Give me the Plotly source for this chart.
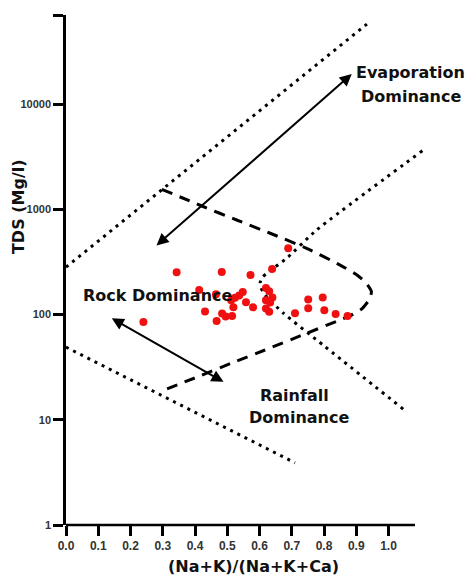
import numpy as np
import plotly.graph_objects as go

# ---- sample data (Gibbs diagram) ----
ratio = [0.689, 0.343, 0.483, 0.572, 0.639, 0.413, 0.465, 0.524, 0.537, 0.548,
         0.558, 0.620, 0.630, 0.640, 0.620, 0.633, 0.519, 0.580, 0.620, 0.630,
         0.431, 0.484, 0.495, 0.515, 0.467, 0.240, 0.710, 0.751, 0.796, 0.751,
         0.801, 0.836, 0.873, 0.512]
tds = [426, 252, 253, 237, 271, 171, 156, 144, 152, 164,
       131, 179, 166, 145, 137, 130, 117, 117, 114, 106,
       107, 102, 96, 97, 87, 85, 103, 139, 145, 115,
       110, 101, 97, 137]

# ---- Gibbs boundary curves ----
upper_x = [0.0, 0.933]
upper_tds = [282, 57500]
lower_x = [0.0, 0.71]
lower_tds = [49, 3.9]
right_x = [1.105, 0.777, 0.684, 0.625, 0.606, 0.602, 0.605, 0.617, 0.674, 0.798, 1.046]
right_tds = [3597, 635, 342, 250, 222, 200, 178, 153, 103, 51, 12.6]
rock_x = [0.297, 0.421, 0.529, 0.633, 0.746, 0.850, 0.900, 0.930, 0.947, 0.940, 0.918, 0.880, 0.850,
          0.731, 0.617, 0.514, 0.400, 0.291]
rock_tds = [1549, 1074, 791, 592, 426, 295, 240, 200, 165, 138, 114, 97, 89,
            63.5, 46, 34.6, 25, 18.5]

# ---- axis ticks ----
y_tickvals = [1, 10, 100, 1000, 10000, 10 ** 4.843]
y_ticktext = ["1", "10", "100", "1000", "10000", ""]
x_tickvals = [0.0, 0.1, 0.2, 0.3, 0.4, 0.5, 0.6, 0.7, 0.8, 0.9, 1.0]
x_ticktext = ["0.0", "0.1", "0.2", "0.3", "0.4", "0.5", "0.6", "0.7", "0.8", "0.9", "1.0"]

# ---- arrows (x, tds) ----
evap_arrow = [(0.886, 10 ** 4.285), (0.276, 10 ** 2.644)]
rock_arrow = [(0.142, 10 ** 1.964), (0.493, 10 ** 1.352)]

# ---- labels (text, x, tds) ----
labels = [("Rock Dominance", 0.285, 10 ** 2.176),
          ("Evaporation", 1.068, 10 ** 4.295),
          ("Dominance", 1.071, 10 ** 4.067),
          ("Rainfall", 0.707, 10 ** 1.235),
          ("Dominance", 0.722, 10 ** 1.017)]

fig = go.Figure()

dot_line = dict(color="black", width=3, dash="3px,5px")
fig.add_trace(go.Scatter(x=upper_x, y=upper_tds, mode="lines", line=dot_line, hoverinfo="skip"))
fig.add_trace(go.Scatter(x=lower_x, y=lower_tds, mode="lines", line=dot_line, hoverinfo="skip"))
fig.add_trace(go.Scatter(x=right_x, y=right_tds, mode="lines", line=dict(dot_line, shape="spline", smoothing=0.5), hoverinfo="skip"))
fig.add_trace(go.Scatter(x=rock_x, y=rock_tds, mode="lines",
                         line=dict(color="black", width=3, dash="11px,8px", shape="spline", smoothing=0.5),
                         hoverinfo="skip"))

fig.add_trace(go.Scatter(x=ratio, y=tds, mode="markers",
                         marker=dict(color="#f01010", size=8, line=dict(width=0))))

label_font = dict(family="DejaVu Sans", size=16, color="#111", weight="bold")
for text, lx, ly in labels:
    fig.add_annotation(x=lx, y=np.log10(ly), xref="x", yref="y", text=text,
                       showarrow=False, font=label_font, xanchor="center", yanchor="middle")

for (x1, y1), (x2, y2) in [evap_arrow, rock_arrow]:
    fig.add_annotation(x=x1, y=np.log10(y1), ax=x2, ay=np.log10(y2),
                       xref="x", yref="y", axref="x", ayref="y",
                       text="", showarrow=True, arrowside="end+start",
                       arrowhead=2, startarrowhead=2, arrowsize=1.2, startarrowsize=1.2,
                       arrowwidth=2, arrowcolor="black", standoff=0, startstandoff=0)

# axis titles
title_font = dict(family="DejaVu Sans", size=16, color="#111", weight="bold")
fig.add_annotation(text="(Na+K)/(Na+K+Ca)", xref="paper", yref="paper",
                   x=0.524, y=-0.082, showarrow=False, font=title_font,
                   xanchor="center", yanchor="middle")
fig.add_annotation(text="TDS (Mg/l)", xref="paper", yref="paper",
                   x=-0.134, y=0.6235, showarrow=False, font=title_font, textangle=-90,
                   xanchor="center", yanchor="middle")

# x axis line (ends before the plot edge)
fig.add_shape(type="line", xref="x", yref="paper", x0=0, x1=1.082, y0=0, y1=0,
              line=dict(color="black", width=2.5))

tick_font = dict(family="Liberation Sans", size=12, color="#333", weight="bold")
fig.update_layout(
    width=466, height=575,
    margin=dict(l=66, r=42, t=15, b=50),
    paper_bgcolor="white", plot_bgcolor="white",
    showlegend=False,
    xaxis=dict(range=[0, 1.11], showline=False, showgrid=False, zeroline=False,
               tickmode="array", tickvals=x_tickvals, ticktext=x_ticktext,
               ticks="outside", ticklen=10, tickwidth=2.5, tickcolor="black",
               tickfont=tick_font),
    yaxis=dict(type="log", range=[0, 4.846], showline=True, linecolor="black", linewidth=2.5,
               showgrid=False, zeroline=False,
               tickmode="array", tickvals=y_tickvals, ticktext=y_ticktext,
               ticks="outside", ticklen=10, tickwidth=2.5, tickcolor="black",
               tickfont=dict(tick_font, size=11)),
)

fig.write_html("out.html", config={"displayModeBar": False},
               post_script="document.body.style.margin='0';")
